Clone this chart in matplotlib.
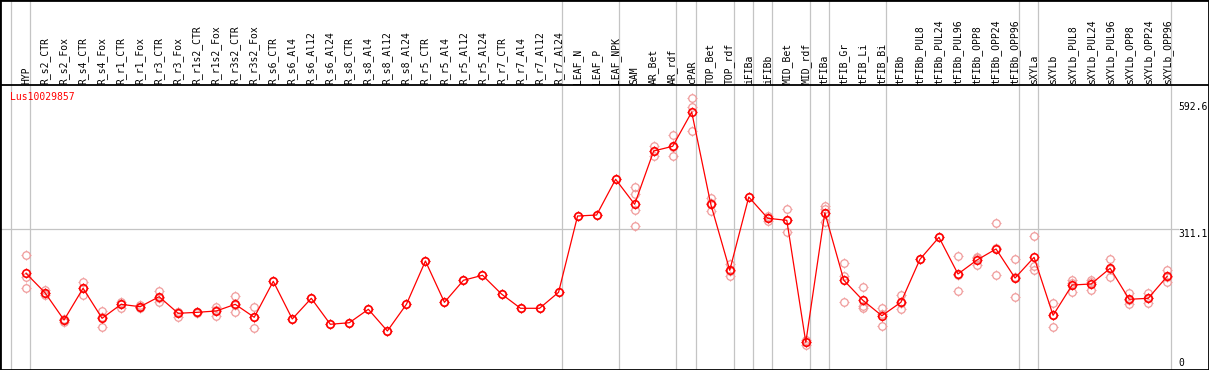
import matplotlib
matplotlib.use('Agg')
import matplotlib.pyplot as plt
from matplotlib.path import Path
from matplotlib.patches import Rectangle

title = 'Lus10029857'

samples = ['HYP', 'R_s2_CTR', 'R_s2_Fox', 'R_s4_CTR', 'R_s4_Fox', 'R_r1_CTR', 'R_r1_Fox',
           'R_r3_CTR', 'R_r3_Fox', 'R_r1s2_CTR', 'R_r1s2_Fox', 'R_r3s2_CTR', 'R_r3s2_Fox',
           'R_s6_CTR', 'R_s6_Al4', 'R_s6_Al12', 'R_s6_Al24', 'R_s8_CTR', 'R_s8_Al4',
           'R_s8_Al12', 'R_s8_Al24', 'R_r5_CTR', 'R_r5_Al4', 'R_r5_Al12', 'R_r5_Al24',
           'R_r7_CTR', 'R_r7_Al4', 'R_r7_Al12', 'R_r7_Al24', 'LEAF_N', 'LEAF_P', 'LEAF_NPK',
           'SAM', 'AR_Bet', 'AR_rdf', 'cPAR', 'TOP_Bet', 'TOP_rdf', 'iFIBa', 'iFIBb',
           'MID_Bet', 'MID_rdf', 'tFIBa', 'tFIB_Gr', 'tFIB_Li', 'tFIB_Bi', 'tFIBb',
           'tFIBb_PUL8', 'tFIBb_PUL24', 'tFIBb_PUL96', 'tFIBb_OPP8', 'tFIBb_OPP24',
           'tFIBb_OPP96', 'sXYLa', 'sXYLb', 'sXYLb_PUL8', 'sXYLb_PUL24', 'sXYLb_PUL96',
           'sXYLb_OPP8', 'sXYLb_OPP24', 'sXYLb_OPP96']

means = [203.3, 156.4, 90.5, 167.1, 94.6, 128.4, 122.6, 146.8, 106.7, 109.1, 112.3,
         128.4, 97.1, 184.0, 93.0, 142.9, 80.2, 84.0, 116.4, 64.0, 128.4, 233.0, 133.3,
         186.4, 198.5, 153.3, 118.8, 118.8, 157.4, 341.6, 344.0, 430.2, 369.9, 498.6,
         509.9, 592.6, 370.6, 210.5, 387.5, 336.1, 331.2, 36.7, 349.6, 186.4, 138.1,
         100.9, 133.3, 237.1, 290.2, 201.6, 235.4, 262.0, 191.9, 241.9, 101.9, 175.0,
         177.5, 215.4, 140.5, 142.9, 196.0]

# individual replicates per sample
reps = [[246.7, 195.1, 167.1], [163, 156, 151], [93, 90, 86], [181.6, 169, 150.9],
        [112.3, 97, 74.4], [134.7, 130, 120.2], [127, 122, 119], [161.3, 144, 134.7],
        [110.6, 111, 98.5], [108, 110, 109], [121.2, 115, 100.2], [149.2, 127, 109.1],
        [122.6, 97, 71.2], [184.0], [93.0], [142.9], [80.2], [84.0], [116.4], [64.0],
        [128.4], [233.0], [133.3], [186.4], [198.5], [153.3], [118.8], [118.8], [157.4],
        [341.6], [344.0], [430.2], [410.9, 394.0, 356.1, 317.5], [511.3, 499, 485.8],
        [536.5, 507.4, 485.8], [625.8, 604.4, 547.6], [384.4, 373, 354.4],
        [225.0, 209, 197.5], [387.5], [341.6, 337, 329.5], [358.5, 333, 302.3],
        [30.2, 37, 43], [365.8, 358.5, 327.9], [228.1, 196.8, 133.3], [169.5, 125.1, 118.8],
        [120.2, 105.7, 76.8], [150.9, 132.6, 116.4], [237.1], [290.2], [245.1, 199.9, 159.8],
        [243.4, 239.5, 223.3], [324.0, 263.5, 198.5], [237.1, 193.3, 145.3],
        [292.6, 221.6, 211.3], [130.9, 101.9, 72.9], [187.1, 179, 158.9],
        [187.1, 182.4, 163.0], [237.1, 214, 195.1], [155.0, 138.1, 128.4],
        [155.0, 142.8, 130.9], [211.3, 195.1, 181.6]]

group_ends = [-1, 0, 28, 31, 34, 35, 37, 38, 39, 41, 42, 45, 52, 53, 60]
yticks = [0, 311.1, 592.6]


def pix(y):
    # pixel row (from top) -> value scale
    return (357.5 - y) / 0.4142


def col(x):
    # pixel column -> sample index
    return (x - 26) / 19.02


# four short ticks sitting just outside the circle marker
M, L = Path.MOVETO, Path.LINETO
verts, codes = [], []
for dx, dy in [(0, 1), (0, -1), (1, 0), (-1, 0)]:
    verts += [(0.75 * dx, 0.75 * dy), (dx, dy)]
    codes += [M, L]
ticks = Path(verts, codes)

fig = plt.figure(figsize=(12.09, 3.70), dpi=100)
ax = fig.add_axes([0, 0, 1, 1])
ax.set_xlim(col(0), col(1209))
ax.set_ylim(pix(370), pix(0))
ax.axis('off')

mono = 'DejaVu Sans Mono'
gray = '#c4c4c4'
pink = '#f09a9a'

for g in group_ends:
    ax.axvline(g + 0.2, color=gray, lw=0.9, zorder=1)
ax.plot([col(1), col(1178)], [yticks[1], yticks[1]], color=gray, lw=0.9, zorder=1)
ax.axhline(pix(85), color='black', lw=1.3, zorder=2)

x = list(range(len(samples)))
for i, r in enumerate(reps):
    xs = [i] * len(r)
    ax.plot(xs, r, ls='none', marker='o', ms=5.4, mfc='none', mec=pink, mew=0.9, zorder=3)
    ax.plot(xs, r, ls='none', marker=ticks, ms=7.0, mec=pink, mew=0.8, zorder=3)
ax.plot(x, means, color='red', lw=0.9, zorder=4)
ax.plot(x, means, ls='none', marker='o', ms=5.4, mfc='none', mec='red', mew=1.2, zorder=5)
ax.plot(x, means, ls='none', marker=ticks, ms=7.2, mec='red', mew=0.9, zorder=5)

for i, s in enumerate(samples):
    ax.text(i, pix(84), s, rotation=90, ha='center', va='bottom', fontsize=7, family=mono)

ax.text(col(10), pix(92), title, color='red', ha='left', va='top', fontsize=7, family=mono)

ax.text(col(1178), yticks[2], '%.1f' % yticks[2], ha='left', va='bottom', fontsize=7, family=mono)
ax.text(col(1178), yticks[1], '%.1f' % yticks[1], ha='left', va='top', fontsize=7, family=mono)
ax.text(col(1178), yticks[0], '0', ha='left', va='top', fontsize=7, family=mono)

fig.patches.append(Rectangle((0, 0), 1, 1, transform=fig.transFigure, fill=False,
                             edgecolor='black', lw=2.0))

fig.savefig('out.png', dpi=100)
